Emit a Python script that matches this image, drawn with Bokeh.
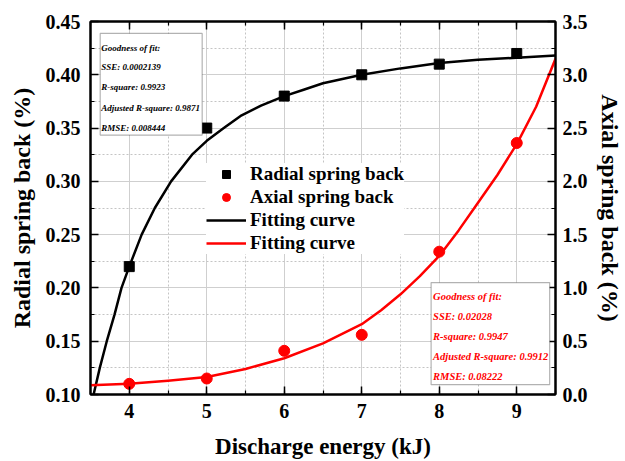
from bokeh.plotting import figure
from bokeh.models import (Range1d, LinearAxis, SingleIntervalTicker, Legend, LegendItem,
                          Label, BoxAnnotation, PrintfTickFormatter, CustomJSTickFormatter)
from bokeh.embed import file_html
from bokeh.resources import INLINE

# Measured spring back versus discharge energy
energy = [4, 5, 6, 7, 8, 9]
radial = [0.22, 0.35, 0.38, 0.40, 0.41, 0.42]
axial = [0.10, 0.15, 0.41, 0.56, 1.34, 2.36]

# Fitted curves
radial_fit_x = [3.54, 3.62, 3.71, 3.81, 3.90, 4.00, 4.16, 4.33, 4.54, 4.81, 5.00, 5.22,
                5.45, 5.70, 6.00, 6.25, 6.50, 6.75, 7.00, 7.50, 8.00, 8.50, 9.00, 9.50]
radial_fit_y = [0.100, 0.125, 0.150, 0.175, 0.200, 0.220, 0.250, 0.275, 0.300, 0.325, 0.338,
                0.350, 0.362, 0.371, 0.380, 0.386, 0.392, 0.396, 0.400, 0.406, 0.411, 0.414,
                0.416, 0.418]
axial_fit_x = [3.5, 4.0, 4.5, 5.0, 5.5, 6.0, 6.5, 7.0, 7.25, 7.5, 7.75, 8.0, 8.25, 8.5,
               8.75, 9.0, 9.25, 9.5]
axial_fit_y = [0.086, 0.100, 0.130, 0.165, 0.240, 0.340, 0.480, 0.660, 0.790, 0.940, 1.110,
               1.300, 1.540, 1.800, 2.060, 2.350, 2.700, 3.150]

radial_stats = ["Goodness of fit:", "SSE: 0.0002139", "R-square: 0.9923",
                "Adjusted R-square: 0.9871", "RMSE: 0.008444"]
axial_stats = ["Goodness of fit:", "SSE: 0.02028", "R-square: 0.9947",
               "Adjusted R-square: 0.9912", "RMSE: 0.08222"]

FONT = "'Liberation Serif', 'Times New Roman', serif"

p = figure(width=625, height=461, x_range=Range1d(3.5, 9.5), y_range=Range1d(0.10, 0.45),
           output_backend="svg", toolbar_location=None,
           min_border_left=90, min_border_right=69, min_border_top=21, min_border_bottom=65)
p.extra_y_ranges = {"axial": Range1d(0, 3.5)}
p.outline_line_color = "black"
p.outline_line_width = 2
p.background_fill_color = "white"

x_ticker = SingleIntervalTicker(interval=1, num_minor_ticks=2)
y_ticker = SingleIntervalTicker(interval=0.05, num_minor_ticks=2)
y2_ticker = SingleIntervalTicker(interval=0.5, num_minor_ticks=2)


def style_axis(ax):
    ax.axis_line_width = 2
    ax.axis_line_color = "black"
    ax.major_tick_in = 8
    ax.major_tick_out = 0
    ax.minor_tick_in = 4
    ax.minor_tick_out = 0
    ax.major_tick_line_width = 1.5
    ax.minor_tick_line_width = 1.2
    ax.major_label_text_font = FONT
    ax.major_label_text_font_style = "bold"
    ax.major_label_text_font_size = "20px"
    ax.major_label_text_color = "black"
    ax.axis_label_text_font = FONT
    ax.axis_label_text_font_style = "bold"
    ax.axis_label_text_font_size = "24px"
    ax.axis_label_text_color = "black"


xa = p.xaxis[0]
xa.ticker = x_ticker
style_axis(xa)
xa.axis_label = "Discharge energy (kJ)"
xa.axis_label_text_font_size = "23px"
xa.major_label_standoff = 9
xa.axis_label_standoff = 13

ya = p.yaxis[0]
ya.ticker = y_ticker
ya.formatter = PrintfTickFormatter(format="%.2f")
style_axis(ya)
ya.axis_label = "Radial spring back (%)"
ya.major_label_standoff = 10
ya.axis_label_standoff = 8

ya2 = LinearAxis(y_range_name="axial", ticker=y2_ticker,
                 formatter=PrintfTickFormatter(format="%.1f"),
                 axis_label="Axial spring back (%)")
style_axis(ya2)
ya2.major_label_standoff = 7
ya2.axis_label_standoff = 6
p.add_layout(ya2, "right")

# tick marks along the top edge, no labels
xa_top = LinearAxis(ticker=x_ticker, formatter=CustomJSTickFormatter(code="return ''"))
style_axis(xa_top)
xa_top.major_label_standoff = 0
p.add_layout(xa_top, "above")

# grid: solid at major ticks, dotted at minor ticks
for g in (p.xgrid[0], p.ygrid[0]):
    g.grid_line_color = "#cfcfcf"
    g.grid_line_width = 1
    g.minor_grid_line_color = "#c4c4c4"
    g.minor_grid_line_dash = "2 2"
    g.minor_grid_line_width = 1
p.xgrid[0].ticker = x_ticker
p.ygrid[0].ticker = y_ticker

# curves and points
r_fit = p.line(radial_fit_x, radial_fit_y, line_color="black", line_width=2.5,
               line_join="round")
a_fit = p.line(axial_fit_x, axial_fit_y, line_color="red", line_width=2.5,
               line_join="round", y_range_name="axial")
r_pts = p.scatter(energy, radial, marker="square", size=10, fill_color="black", line_color="black")
a_pts = p.scatter(energy, axial, marker="circle", size=11, fill_color="red", line_color="red",
                  y_range_name="axial")

legend = Legend(items=[LegendItem(label="Radial spring back", renderers=[r_pts]),
                       LegendItem(label="Axial spring back", renderers=[a_pts]),
                       LegendItem(label="Fitting curve", renderers=[r_fit]),
                       LegendItem(label="Fitting curve", renderers=[a_fit])],
                location=(116, 140), border_line_color=None,
                background_fill_color="white", background_fill_alpha=1,
                label_text_font=FONT, label_text_font_style="bold",
                label_text_font_size="19px", label_text_color="black",
                glyph_width=40, glyph_height=20, spacing=1, label_standoff=4,
                padding=0, margin=0, label_height=20)
p.add_layout(legend)

# goodness-of-fit boxes
p.add_layout(BoxAnnotation(left=3.625, right=4.941, top=0.4388, bottom=0.3434,
                           fill_color="white", fill_alpha=1, line_color="black", line_width=1.2))
p.add_layout(BoxAnnotation(left=7.895, right=9.425, top=0.2050, bottom=0.1092,
                           fill_color="white", fill_alpha=1, line_color="black", line_width=1.2))

for txt, yy in zip(radial_stats, [0.4255, 0.4069, 0.3882, 0.3686, 0.3499]):
    p.add_layout(Label(x=3.638, y=yy, text=txt, text_font=FONT, text_font_style="bold italic",
                       text_font_size="9px", text_color="black", text_baseline="middle"))
for txt, yy in zip(axial_stats, [0.1920, 0.1733, 0.1547, 0.1356, 0.1170]):
    p.add_layout(Label(x=7.92, y=yy, text=txt, text_font=FONT, text_font_style="bold italic",
                       text_font_size="10.5px", text_color="red", text_baseline="middle"))

open("out.html", "w").write(file_html(p, INLINE))
